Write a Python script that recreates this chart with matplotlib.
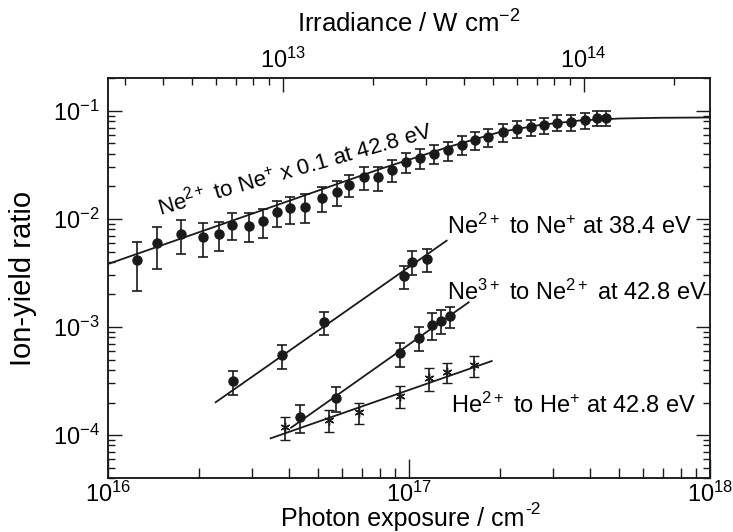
import matplotlib as mlp
mlp.use('Agg')
import matplotlib.pyplot as plt
import numpy as np

plt.rcParams['font.family'] = ['Liberation Sans', 'DejaVu Sans']
plt.rcParams['mathtext.fontset'] = 'custom'
plt.rcParams['mathtext.rm'] = 'Liberation Sans'
plt.rcParams['mathtext.it'] = 'Liberation Sans:italic'
plt.rcParams['mathtext.default'] = 'regular'
plt.rcParams['axes.unicode_minus'] = False

# Ne2+ to Ne+ x 0.1 at 42.8 eV
ne_428_x = [1.251e16, 1.451e16, 1.748e16, 2.064e16, 2.338e16, 2.576e16, 2.934e16,
            3.273e16, 3.643e16, 4.024e16, 4.513e16, 5.129e16, 5.766e16, 6.336e16,
            7.087e16, 7.889e16, 8.76e16, 9.77e16, 1.088e17, 1.211e17, 1.345e17,
            1.496e17, 1.657e17, 1.834e17, 2.048e17, 2.279e17, 2.537e17, 2.809e17,
            3.11e17, 3.445e17, 3.843e17, 4.204e17, 4.513e17]
ne_428_y = [4.17e-3, 5.96e-3, 7.26e-3, 6.86e-3, 7.22e-3, 8.86e-3, 8.67e-3,
            9.58e-3, 1.161e-2, 1.256e-2, 1.300e-2, 1.575e-2, 1.767e-2, 2.065e-2,
            2.448e-2, 2.44e-2, 2.86e-2, 3.37e-2, 3.65e-2, 4.00e-2, 4.33e-2,
            4.84e-2, 5.39e-2, 5.78e-2, 6.36e-2, 6.79e-2, 7.07e-2, 7.39e-2,
            7.82e-2, 7.91e-2, 8.26e-2, 8.56e-2, 8.61e-2]
ne_428_rel = [0.48, 0.42, 0.35, 0.35, 0.30, 0.28, 0.30, 0.30, 0.27, 0.28, 0.30,
              0.26, 0.26, 0.23, 0.24, 0.25, 0.23, 0.21, 0.21, 0.20, 0.20, 0.20,
              0.19, 0.19, 0.18, 0.18, 0.17, 0.17, 0.17, 0.17, 0.17, 0.16, 0.16]
ne_428_fit_x = [1e16, 2.963e16, 8.01e16, 1.368e17, 2.006e17, 2.724e17, 3.70e17,
                5.02e17, 6.82e17, 1e18]
ne_428_fit_y = [3.83e-3, 1.101e-2, 2.90e-2, 4.69e-2, 6.39e-2, 7.42e-2, 8.17e-2,
                8.52e-2, 8.65e-2, 8.71e-2]

# Ne2+ to Ne+ at 38.4 eV
ne_384_x = [2.608e16, 3.777e16, 5.22e16, 9.65e16, 1.026e17, 1.145e17]
ne_384_y = [3.16e-4, 5.50e-4, 1.112e-3, 2.97e-3, 4.02e-3, 4.26e-3]
ne_384_rel = [0.25, 0.25, 0.24, 0.24, 0.25, 0.24]
ne_384_fit_x = [2.279e16, 1.334e17]
ne_384_fit_y = [2.01e-4, 6.30e-3]

# Ne3+ to Ne2+ at 42.8 eV
ne3_x = [4.345e16, 5.707e16, 9.34e16, 1.082e17, 1.190e17, 1.277e17, 1.368e17]
ne3_y = [1.477e-4, 2.215e-4, 5.71e-4, 7.96e-4, 1.043e-3, 1.144e-3, 1.264e-3]
ne3_rel = [0.29, 0.26, 0.25, 0.25, 0.28, 0.25, 0.22]
ne3_fit_x = [4.055e16, 1.579e17]
ne3_fit_y = [1.168e-4, 1.693e-3]

# He2+ to He+ at 42.8 eV
he_x = [3.873e16, 5.423e16, 6.837e16, 9.34e16, 1.168e17, 1.334e17, 1.648e17]
he_y = [1.194e-4, 1.377e-4, 1.622e-4, 2.297e-4, 3.35e-4, 3.86e-4, 4.45e-4]
he_rel = [0.24, 0.23, 0.22, 0.23, 0.24, 0.21, 0.22]
he_fit_x = [3.471e16, 1.883e17]
he_fit_y = [9.32e-5, 4.84e-4]

# irradiance = exposure * k
k = 2.63e-4

fig = plt.figure(figsize=(7.33, 5.32), dpi=100)
ax = fig.add_axes([0.1473, 0.1015, 0.8213, 0.751])
ax.set_xscale('log')
ax.set_yscale('log')
ax.set_xlim(1e16, 1e18)
ax.set_ylim(4e-5, 0.2)

c = '#1a1a1a'
ebkw = dict(ls='none', color=c, ecolor=c, elinewidth=1.2, capsize=3.8,
            capthick=1.2)
for xs, ys, rel in [(ne_428_x, ne_428_y, ne_428_rel),
                    (ne_384_x, ne_384_y, ne_384_rel),
                    (ne3_x, ne3_y, ne3_rel)]:
    ys = np.array(ys)
    ax.errorbar(xs, ys, yerr=ys * np.array(rel), marker='o', ms=6.5, **ebkw)
hy = np.array(he_y)
ax.errorbar(he_x, hy, yerr=hy * np.array(he_rel), marker=(6, 2, 0), ms=7,
            mew=1.0, **ebkw)

for fx, fy in [(ne_428_fit_x, ne_428_fit_y), (ne_384_fit_x, ne_384_fit_y),
               (ne3_fit_x, ne3_fit_y), (he_fit_x, he_fit_y)]:
    ax.plot(fx, fy, color=c, lw=1.3)

fs = 17
ax.text(0.31, 0.775, r'Ne$^{2+}$ to Ne$^{+}$ x 0.1 at 42.8 eV', rotation=16,
        rotation_mode='anchor', ha='center', va='center', fontsize=16,
        transform=ax.transAxes)
ax.text(0.563, 0.63, r'Ne$^{2+}$ to Ne$^{+}$ at 38.4 eV', ha='left',
        va='center', fontsize=fs, transform=ax.transAxes)
ax.text(0.563, 0.465, r'Ne$^{3+}$ to Ne$^{2+}$ at 42.8 eV', ha='left',
        va='center', fontsize=fs, transform=ax.transAxes)
ax.text(0.569, 0.1825, r'He$^{2+}$ to He$^{+}$ at 42.8 eV', ha='left',
        va='center', fontsize=fs, transform=ax.transAxes)

ax.set_ylabel('Ion-yield ratio', fontsize=21)
ax.yaxis.set_label_coords(-0.118, 0.5)

ax2 = ax.twiny()
ax2.set_xscale('log')
ax2.set_xlim(1e16 * k, 1e18 * k)
ax2.set_xlabel('Irradiance / W cm$^{-2}$', fontsize=18.5)
ax2.xaxis.set_label_coords(0.5, 1.114)

for a in [ax, ax2]:
    for s in a.spines.values():
        s.set_linewidth(1.1)
        s.set_color(c)
ax.tick_params(axis='both', which='both', direction='in', color=c,
               labelsize=17, width=1.0)
ax.tick_params(axis='x', which='both', top=False)
ax.tick_params(axis='y', which='both', right=True)
ax.tick_params(axis='x', which='major', length=14, pad=3)
ax.tick_params(axis='x', which='minor', length=7)
ax.tick_params(axis='y', which='major', length=10, pad=6)
ax.tick_params(axis='y', which='minor', length=5)
ax2.tick_params(axis='x', which='both', direction='in', color=c,
                labelsize=17, width=1.0)
ax2.tick_params(axis='x', which='major', length=10, pad=4)
ax2.tick_params(axis='x', which='minor', length=5)

# bottom label drawn in two pieces so the superscript does not crowd the ticks
lab = fig.text(0.549, 6.0 / 532, 'Photon exposure / cm', ha='center',
               va='baseline', fontsize=18)
fig.canvas.draw()
bb = lab.get_window_extent()
fig.text((bb.x1 + 1) / fig.bbox.width, 18.0 / 532, '-2', ha='left',
         va='baseline', fontsize=12.5)

fig.savefig('out.png', dpi=100)
